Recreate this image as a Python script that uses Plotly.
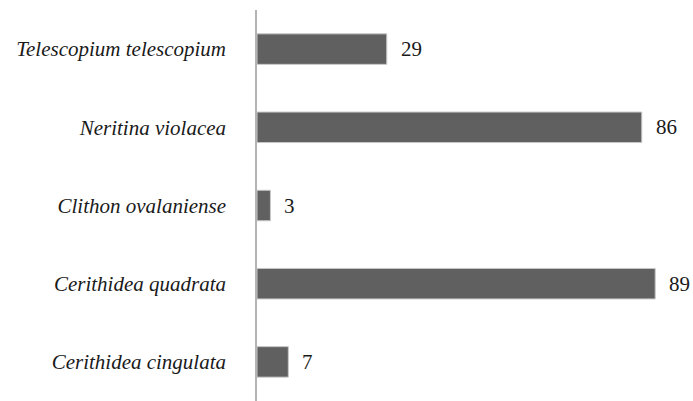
import plotly.graph_objects as go

species = ["Cerithidea cingulata", "Cerithidea quadrata", "Clithon ovalaniense",
           "Neritina violacea", "Telescopium telescopium"]
counts = [7, 89, 3, 86, 29]

FONT = "Liberation Serif"

fig = go.Figure()
fig.add_trace(go.Bar(
    y=species, x=counts, orientation="h", width=0.39,
    marker=dict(color="#606060", line=dict(color="#c8c8c8", width=1)),
    hoverinfo="skip",
))
for s, v in zip(species, counts):
    fig.add_annotation(x=v, y=s, text=str(v), showarrow=False,
                       xanchor="left", xshift=12,
                       font=dict(family=FONT, size=21))

fig.update_layout(
    width=693, height=401,
    margin=dict(l=257, r=2, t=10, b=0),
    plot_bgcolor="white", paper_bgcolor="white",
    showlegend=False,
)
fig.update_xaxes(range=[0, 97], visible=False, showgrid=False, zeroline=False,
                 automargin=False)
fig.update_yaxes(range=[-0.5, 4.5], showgrid=False, zeroline=False,
                 showline=True, linecolor="#b4b4b4", linewidth=1.5,
                 ticks="", ticklabelstandoff=25, automargin=False,
                 tickfont=dict(family=FONT, size=21, style="italic", color="#1a1a1a"))
fig.update_annotations(font_color="#1a1a1a")

fig.write_html("out.html", config={"displayModeBar": False},
               post_script="document.body.style.margin='0';")
